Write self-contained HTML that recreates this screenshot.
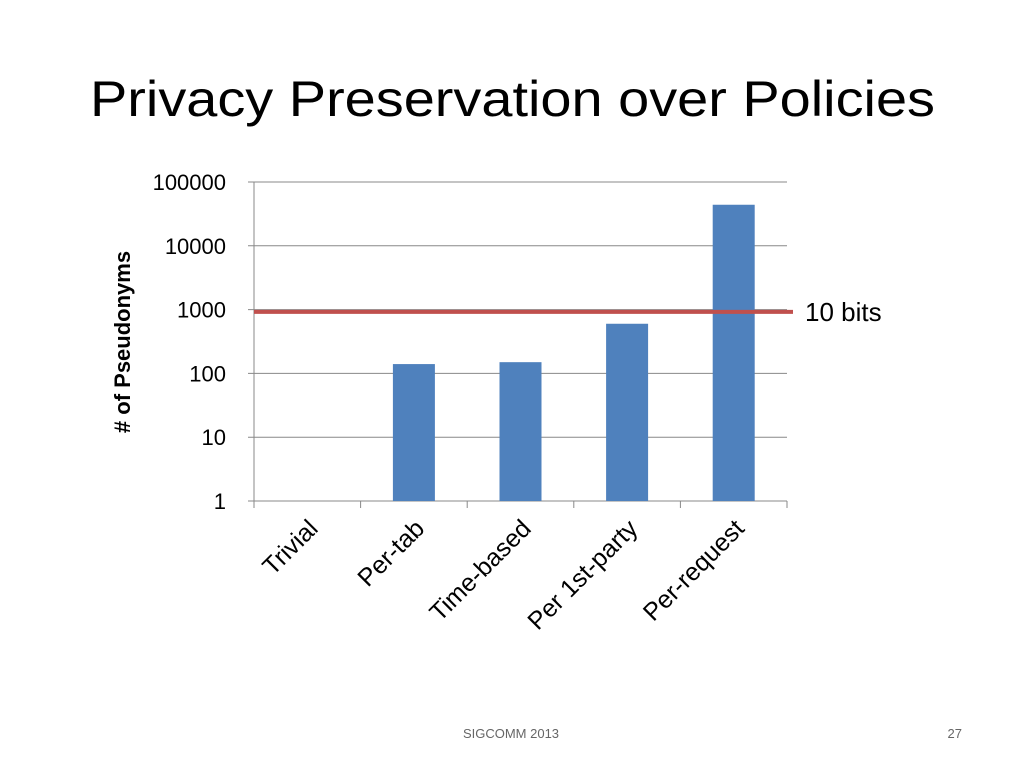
<!DOCTYPE html>
<html><head><meta charset="utf-8"><style>
body{margin:0;background:#fff;width:1024px;height:768px;overflow:hidden;font-family:"Liberation Sans",sans-serif}
</style></head><body>
<svg width="1024" height="768">
<text x="90" y="116" font-size="50" fill="#000" textLength="845" lengthAdjust="spacingAndGlyphs">Privacy Preservation over Policies</text>
<g id="chart"></g>
<text x="511" y="738" font-size="13" fill="#666" text-anchor="middle">SIGCOMM 2013</text>
<text x="962" y="738" font-size="13" fill="#666" text-anchor="end">27</text>
</svg>
<script>
const categories=["Trivial","Per-tab","Time-based","Per 1st-party","Per-request"];
const values=[1,140,150,600,44000];
const tickLabels=["1","10","100","1000","10000","100000"];
const thresholdValue=920;
const thresholdLabel="10 bits";
const NS="http://www.w3.org/2000/svg";
const g=document.getElementById("chart");
const X0=254,X1=787,Y0=501,Y1=182;
const band=(X1-X0)/categories.length;
function y(v){return Y0-(Math.log10(v)/5)*(Y0-Y1);}
function mk(t,a,p){const e=document.createElementNS(NS,t);for(const k in a)e.setAttribute(k,a[k]);(p||g).appendChild(e);return e;}
tickLabels.forEach((l,i)=>{const v=Math.pow(10,i);const yy=y(v);
 const gl=mk("line",{x1:X0-6,x2:X1,y1:yy,y2:yy,stroke:"#888","stroke-width":1});
 
 
 const t=mk("text",{x:226,y:yy+8,"font-size":22,"text-anchor":"end"});t.textContent=l;
 
 
});
const ax=mk("line",{x1:X0,x2:X0,y1:Y1,y2:Y0,stroke:"#888"});


for(let i=0;i<=categories.length;i++){const xx=X0+i*band;const tk=mk("line",{x1:xx,x2:xx,y1:Y0,y2:Y0+7,stroke:"#888"});
 
 }
categories.forEach((c,i)=>{const cx=X0+(i+0.5)*band;
 if(values[i]>1){const b=mk("rect",{x:cx-21,width:42,y:y(values[i]),height:Y0-y(values[i]),fill:"#4f81bd"});
 
 }
 const t=mk("text",{x:cx+12,y:530,"font-size":25,"text-anchor":"end",transform:`rotate(-45 ${cx+12} 530)`});t.textContent=c;
 
 
});
const ty=y(thresholdValue);
const rl=mk("line",{x1:X0,x2:793,y1:ty,y2:ty,stroke:"#c0504d","stroke-width":4});


const tl=mk("text",{x:805,y:ty+9,"font-size":26});tl.textContent=thresholdLabel;


const yt=mk("text",{x:130,y:342,"font-size":22,"font-weight":"bold","text-anchor":"middle",transform:"rotate(-90 130 342)"});yt.textContent="# of Pseudonyms";


</script>
</body></html>
